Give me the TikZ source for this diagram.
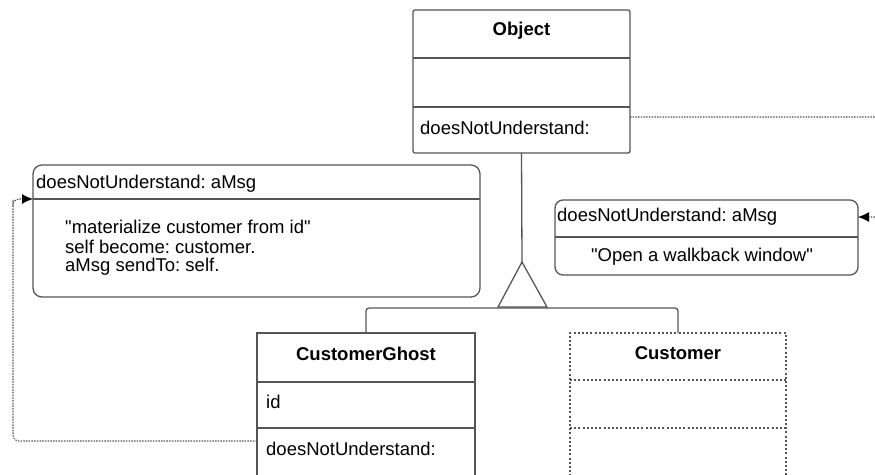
\documentclass[tikz,border=0pt]{standalone}
\usepackage{fontspec}
\setmainfont{Liberation Sans}[Ligatures=TeXOff]
\usetikzlibrary{arrows.meta,calc}
\definecolor{ln}{RGB}{85,85,85}
\frenchspacing
\tikzset{
  boxline/.style={draw=ln, line width=1.3pt},
  clsbox/.style={boxline, rectangle, inner sep=0pt, outer sep=0pt},
  notebox/.style={boxline, rectangle, rounded corners=9pt, inner sep=0pt, outer sep=0pt},
  ghostbox/.style={draw=ln, line width=1.2pt, dash pattern=on 2pt off 2.2pt, rectangle, inner sep=0pt, outer sep=0pt},
  dotconn/.style={draw=ln, line width=1.1pt, dash pattern=on 1.5pt off 1.2pt},
  txt/.style={font=\fontsize{18.5}{22}\selectfont, inner sep=0pt, anchor=west, text=black},
  ttl/.style={font=\fontsize{18.5}{22}\selectfont\bfseries, inner sep=0pt, text=black},
  tip/.style={-{Latex[length=11pt,width=10pt,fill=black,color=black]}}
}
\begin{document}
\begin{tikzpicture}[x=1pt,y=-1pt]
\useasboundingbox (0,0) rectangle (875,474);
% Object class
\node[clsbox, rounded corners=2pt, minimum width=217pt, minimum height=143pt] (object) at (521.5,81.5) {};
\draw[boxline] (413,58) -- (630,58);
\draw[boxline] (413,107) -- (630,107);
\node[ttl] (objname) at (521.5,31) {Object};
\node[txt] (objop) at (420,128) {doesNotUnderstand:};
% left note
\node[notebox, minimum width=447pt, minimum height=132pt] (lnote) at (256.5,231) {};
\draw[boxline] (33,199) -- (480,199);
\node[txt] (lhead) at (36,184) {doesNotUnderstand: aMsg};
\node[txt] (l1) at (65,227) {"materialize customer from id"};
\node[txt] (l2) at (65,247) {self become: customer.};
\node[txt] (l3) at (65,267) {aMsg sendTo: self.};
% right note
\node[notebox, rounded corners=8pt, minimum width=303pt, minimum height=75pt] (rnote) at (706.5,237.5) {};
\draw[boxline] (555,237) -- (858,237);
\node[txt] (rhead) at (557,217) {doesNotUnderstand: aMsg};
\node[txt, anchor=center] (rbody) at (702,257) {"Open a walkback window"};
% CustomerGhost
\node[clsbox, minimum width=218pt, minimum height=170pt, anchor=north] (ghost) at (366,333) {};
\draw[boxline] (257,382) -- (475,382);
\draw[boxline] (257,428) -- (475,428);
\node[ttl] (gname) at (366,354) {CustomerGhost};
\node[txt] (gid) at (266,402) {id};
\node[txt] (gop) at (266,449) {doesNotUnderstand:};
% Customer
\node[ghostbox, minimum width=216pt, minimum height=170pt, anchor=north] (cust) at (678,333) {};
\draw[ghostbox] (570,380) -- (786,380);
\draw[ghostbox] (570,428) -- (786,428);
\node[ttl] (cname) at (678,353) {Customer};
% generalization
\coordinate (apex) at (522,262);
\draw[boxline] (object.south) -- (apex);
\draw[boxline, line join=miter] (apex) -- (498,307) -- (547,307) -- cycle;
\draw[boxline, rounded corners=3pt] (ghost.north) -- ++(0,-25) -| (cust.north);
% loop connector
\coordinate (gl) at (257,441);
\coordinate (lin) at (33,199);
\draw[dotconn, rounded corners=6pt] (gl) -| (13,199);
\draw[dotconn, rounded corners=6pt, tip] (13,206) -- (13,199) -- (lin);
% Object to right note
\coordinate (oout) at (630,117);
\coordinate (rin) at (858,217);
\draw[dotconn, tip, rounded corners=6pt] (oout) -| (890,217) -- (rin);
\end{tikzpicture}
\end{document}
